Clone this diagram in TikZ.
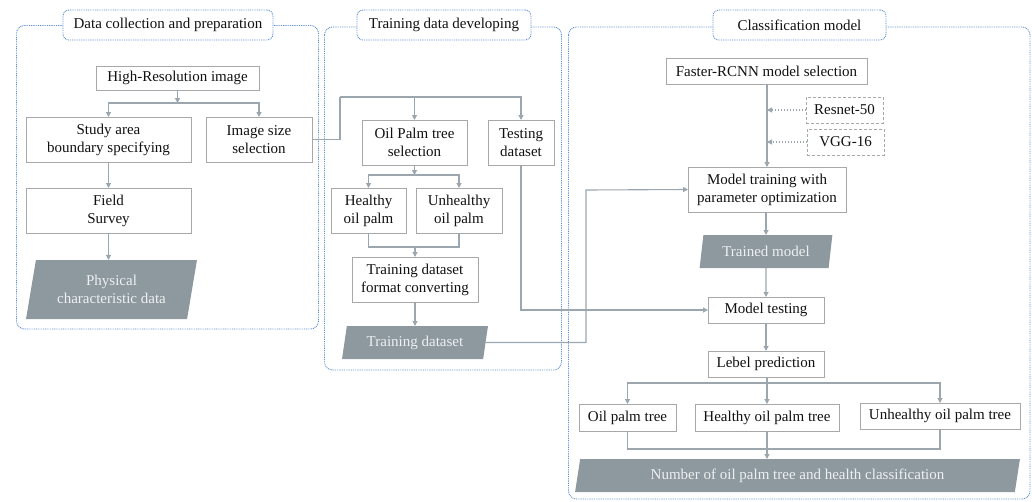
\documentclass[tikz,border=0pt]{standalone}
\usepackage{fontspec}
\setmainfont{Liberation Serif}
\usetikzlibrary{arrows.meta,shapes.geometric}
\definecolor{boxgray}{HTML}{A8A8A8}
\definecolor{arrgray}{HTML}{9BA6AF}
\definecolor{paragray}{HTML}{8D989F}
\definecolor{paratext}{HTML}{EEF1F3}
\definecolor{panelblue}{HTML}{5F8FCE}
\definecolor{txt}{HTML}{111111}
\newcommand{\fs}{\fontsize{15}{18}\selectfont}
\tikzset{
  box/.style={draw=boxgray, line width=0.9pt, fill=white, inner sep=0pt, outer sep=0pt, align=center, font=\fs, text=txt},
  dbox/.style={box, dash pattern=on 3pt off 2pt},
  para/.style={trapezium, trapezium left angle=76, trapezium right angle=104, trapezium stretches=true, fill=paragray, draw=none, inner sep=0pt, outer sep=0pt, text=paratext, align=center, font=\fs},
  ln/.style={draw=arrgray, line width=1.1pt},
  arr/.style={ln, -{Triangle[length=5pt,width=5pt]}},
  darr/.style={arr, dash pattern=on 1.5pt off 1.5pt},
  panel/.style={draw=panelblue, line width=0.9pt, dash pattern=on 0.9pt off 0.9pt, rounded corners=8pt},
  ttl/.style={draw=panelblue, line width=0.9pt, dash pattern=on 0.9pt off 0.9pt, rounded corners=6pt, fill=white, inner sep=0pt, minimum height=30pt, font=\fs, text=txt},
}
\begin{document}
\begin{tikzpicture}[x=1pt,y=-1pt]
\useasboundingbox (0,0) rectangle (1032,501);
% panels
\draw[panel] (16.5,25.5) rectangle (318.5,329);
\draw[panel] (324.5,27) rectangle (561.5,370);
\draw[panel] (568.5,27) rectangle (1030,499);
\node[ttl, minimum width=210pt] (t1) at (168,25) {Data collection and preparation};
\node[ttl, minimum width=174pt] (t2) at (444,25) {Training data developing};
\node[ttl, minimum width=173pt] (t3) at (799.5,25) {Classification model};
% panel 1
\node[box, minimum width=163pt, minimum height=24pt] (hr) at (177.5,78) {High-Resolution image};
\node[box, minimum width=165pt, minimum height=45pt] (study) at (108.5,139.5) {Study area\\boundary specifying};
\node[box, minimum width=106pt, minimum height=45pt] (imgsize) at (259,139.5) {Image size\\selection};
\node[box, minimum width=165pt, minimum height=45pt] (field) at (108.5,210.5) {Field\\Survey};
\node[para, minimum width=171pt, minimum height=59pt] (phys) at (111.5,289.5) {Physical\\characteristic data};
% panel 2
\node[box, minimum width=105pt, minimum height=45pt] (oilsel) at (414.5,142.5) {Oil Palm tree\\selection};
\node[box, minimum width=66pt, minimum height=45pt] (testing) at (521,142.5) {Testing\\dataset};
\node[box, minimum width=75pt, minimum height=45pt] (healthy) at (368.5,210.5) {Healthy\\oil palm};
\node[box, minimum width=86pt, minimum height=45pt] (unhealthy) at (459,210.5) {Unhealthy\\oil palm};
\node[box, minimum width=126pt, minimum height=45pt] (tdfc) at (415,279.5) {Training dataset\\format converting};
\node[para, minimum width=146pt, minimum height=33pt] (tds) at (415,342.5) {Training dataset};
% panel 3
\node[box, minimum width=201pt, minimum height=26pt] (faster) at (766.5,71) {Faster-RCNN model selection};
\node[dbox, minimum width=77pt, minimum height=26pt] (resnet) at (844.5,110) {Resnet-50};
\node[dbox, minimum width=77pt, minimum height=26pt] (vgg) at (845.5,142) {VGG-16};
\node[box, minimum width=158pt, minimum height=45pt] (mtrain) at (767,189.5) {Model training with\\parameter optimization};
\node[para, minimum width=134pt, minimum height=33pt] (trained) at (766,251.5) {Trained model};
\node[box, minimum width=116pt, minimum height=26pt] (mtest) at (766,310) {Model testing};
\node[box, minimum width=116pt, minimum height=26pt] (lebel) at (766,364) {Lebel prediction};
\node[box, minimum width=97pt, minimum height=27pt] (oilpt) at (627.5,417.5) {Oil palm tree};
\node[box, minimum width=144pt, minimum height=27pt] (hopt) at (767,417.5) {Healthy oil palm tree};
\node[box, minimum width=160pt, minimum height=26pt] (uopt) at (940,416) {Unhealthy oil palm tree};
\node[para, minimum width=445pt, minimum height=33pt] (number) at (797.5,475.5) {Number of oil palm tree and health classification};
% coordinates
\coordinate (j1) at (177.5,103);
\coordinate (j2) at (340,97);
\coordinate (j3) at (414.5,175);
\coordinate (j4) at (415,247);
\coordinate (j5) at (586,190);
\coordinate (j6) at (767,383);
\coordinate (j7) at (767,449);
% connectors panel 1
\draw[arr] (hr) -- (j1);
\draw[arr] (j1) -| (study);
\draw[arr] (j1) -| (imgsize);
\draw[arr] (study) -- (field);
\draw[arr] (field.south) -- (field.south |- phys.north);
% panel 2
\draw[ln] (imgsize.east) -| (j2);
\draw[arr] (j2) -| (oilsel);
\draw[arr] (j2) -| (testing);
\draw[arr] (oilsel) -- (j3);
\draw[arr] (j3) -| (healthy);
\draw[arr] (j3) -| (unhealthy);
\draw[ln] (healthy.south) -- (healthy.south |- j4) -- (unhealthy.south |- j4) -- (unhealthy.south);
\draw[arr] (j4) -- (tdfc);
\draw[arr] (tdfc) -- (tds);
\draw[arr] (tds.east) -| (j5) -- (mtrain.west);
\draw[arr] (testing.south) |- (mtest.west);
% panel 3
\draw[arr] (faster.south -| mtrain.north) -- (mtrain.north);
\draw[darr] (resnet.west) -- (resnet.west -| mtrain.north);
\draw[darr] (vgg.west) -- (vgg.west -| mtrain.north);
\draw[arr] (mtrain.south -| trained.north) -- (trained.north);
\draw[arr] (trained) -- (mtest);
\draw[arr] (mtest) -- (lebel);
\draw[arr] (lebel.south -| hopt.north) -- (hopt.north);
\draw[arr] (j6) -| (oilpt);
\draw[arr] (j6) -| (uopt);
\draw[ln] (oilpt.south) -- (oilpt.south |- j7) -- (uopt.south |- j7) -- (uopt.south);
\draw[ln] (hopt.south) -- (j7);
\draw[arr] (j7) -- (j7 |- number.north);
\end{tikzpicture}
\end{document}
